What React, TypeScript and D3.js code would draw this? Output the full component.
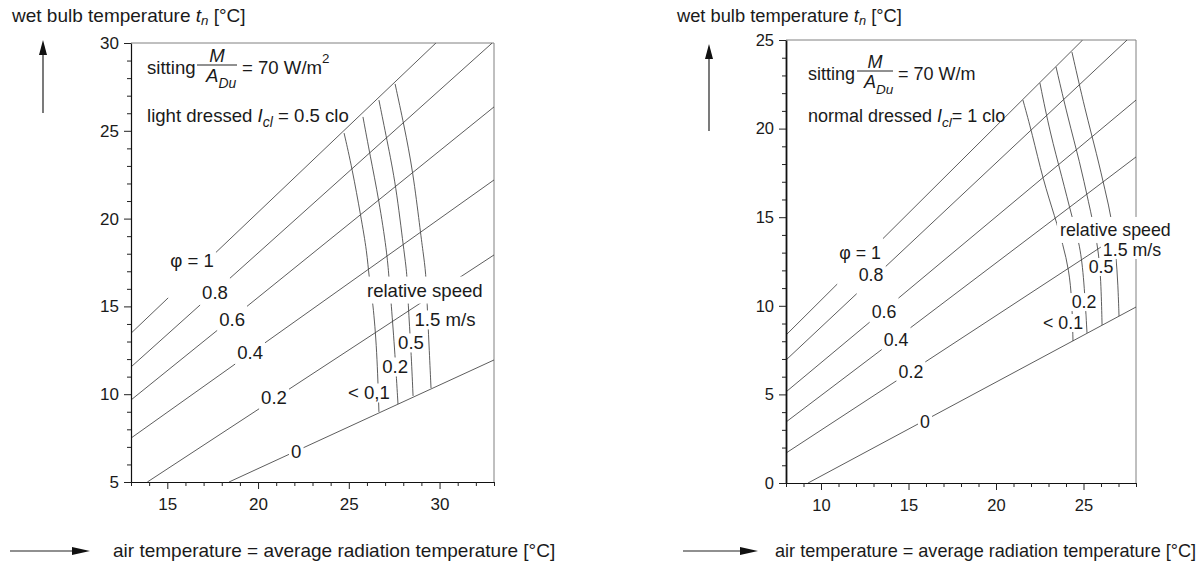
import React, { useEffect, useRef } from "react";
import * as d3 from "d3";

type Pt = [number, number];

// ---------- shared labels ----------
const PHI_TEXT = ["φ = 1", "0.8", "0.6", "0.4", "0.2", "0"];
const SPEED_TEXT_LEFT = ["< 0,1", "0.2", "0.5", "1.5 m/s"];
const SPEED_TEXT_RIGHT = ["< 0.1", "0.2", "0.5", "1.5 m/s"];
const REL_SPEED_TEXT = "relative speed";
const Y_TITLE = "wet bulb temperature ";
const X_TITLE = "air temperature = average radiation temperature [°C]";

// ---------- left panel (light dressed, 0.5 clo) ----------
const leftXDomain: Pt = [13, 33];
const leftYDomain: Pt = [5, 30];
const leftXTicks = [15, 20, 25, 30];
const leftYTicks = [5, 10, 15, 20, 25, 30];
const leftPhi: Pt[][] = [
  [[13, 13.47], [29.8, 30]],
  [[13, 11.55], [32.9, 30]],
  [[13, 9.67], [33, 26.36]],
  [[13, 7.5], [33, 22.2]],
  [[13.9, 5], [33, 17.93]],
  [[18.4, 5], [33, 11.95]],
];
const leftPhiLabel: Pt[] = [
  [16.36, 17.64], [17.63, 15.82], [18.57, 14.23], [19.56, 12.35], [20.88, 9.84], [22.1, 6.71],
];
const leftSpeed: Pt[][] = [
  [[24.74, 24.87], [25.18, 22.88], [25.67, 20.09], [26.0, 18.1], [26.11, 16.67], [26.33, 15.25], [26.55, 12.52], [26.66, 8.99]],
  [[25.78, 25.79], [26.17, 23.62], [26.66, 21.06], [27.1, 18.1], [27.21, 16.67], [27.33, 15.25], [27.55, 12.23], [27.71, 9.44]],
  [[26.66, 26.75], [27.1, 24.48], [27.6, 21.91], [28.04, 18.1], [28.21, 16.9], [28.26, 15.25], [28.43, 12.52], [28.54, 9.9]],
  [[27.55, 27.67], [28.04, 25.33], [28.54, 22.65], [28.92, 19.46], [29.09, 18.1], [29.25, 16.9], [29.31, 15.25], [29.42, 12.8], [29.53, 10.35]],
];
const leftSpeedLabel: Pt[] = [[26.11, 10.07], [27.55, 11.55], [28.43, 12.92], [30.3, 14.23]];
const leftRelSpeed: Pt = [26.0, 15.93];

// ---------- right panel (normal dressed, 1 clo) ----------
const rightXDomain: Pt = [8, 28];
const rightYDomain: Pt = [0, 25];
const rightXTicks = [10, 15, 20, 25];
const rightYTicks = [0, 5, 10, 15, 20, 25];
const rightPhi: Pt[][] = [
  [[8, 8.35], [24.95, 25]],
  [[8, 6.94], [27.49, 25]],
  [[8, 5.14], [28, 21.61]],
  [[8, 3.44], [28, 18.4]],
  [[8, 1.69], [28, 14.61]],
  [[9.26, 0], [28, 9.93]],
];
const rightPhiLabel: Pt[] = [
  [12.23, 12.98], [12.86, 11.74], [13.6, 9.65], [14.29, 8.07], [15.14, 6.26], [15.94, 3.44],
];
const rightSpeed: Pt[][] = [
  [[21.54, 21.61], [22.06, 19.75], [22.69, 17.1], [23.37, 15.01], [23.83, 13.43], [24.17, 12.02], [24.34, 10.33], [24.4, 8.01]],
  [[22.51, 22.57], [23.09, 19.75], [23.77, 17.27], [24.34, 15.01], [24.8, 13.43], [25.03, 11.46], [25.2, 8.47]],
  [[23.43, 23.48], [24.11, 20.6], [24.8, 18.06], [25.26, 15.97], [25.83, 13.43], [26.0, 11.46], [26.06, 8.92]],
  [[24.34, 24.32], [25.09, 21.05], [25.77, 18.51], [26.23, 16.53], [26.63, 14.84], [26.86, 12.87], [26.97, 11.17], [27.03, 9.42]],
];
const rightSpeedLabel: Pt[] = [[23.83, 9.03], [25.03, 10.21], [26.0, 12.19], [27.77, 13.15]];
const rightRelSpeed: Pt = [23.66, 14.28];

const FONT = "'Liberation Sans', Arial, Helvetica, sans-serif";
const INK = "#1a1a1a";
const LINE = "#404040";

type Panel = {
  xDomain: Pt; yDomain: Pt; xRange: Pt; yRange: Pt;
  xTicks: number[]; yTicks: number[];
  phi: Pt[][]; phiLabel: Pt[];
  speed: Pt[][]; speedLabel: Pt[]; speedText: string[];
  relSpeed: Pt; fs: number; tickFs: number; id: string;
  leftAxisWidth: number;
};

const LEFT: Panel = {
  xDomain: leftXDomain, yDomain: leftYDomain, xRange: [131, 494], yRange: [482, 43],
  xTicks: leftXTicks, yTicks: leftYTicks, phi: leftPhi, phiLabel: leftPhiLabel,
  speed: leftSpeed, speedLabel: leftSpeedLabel, speedText: SPEED_TEXT_LEFT,
  relSpeed: leftRelSpeed, fs: 18.6, tickFs: 17, id: "L", leftAxisWidth: 1.2,
};
const RIGHT: Panel = {
  xDomain: rightXDomain, yDomain: rightYDomain, xRange: [786, 1136], yRange: [483, 40],
  xTicks: rightXTicks, yTicks: rightYTicks, phi: rightPhi, phiLabel: rightPhiLabel,
  speed: rightSpeed, speedLabel: rightSpeedLabel, speedText: SPEED_TEXT_RIGHT,
  relSpeed: rightRelSpeed, fs: 17.8, tickFs: 16.5, id: "R", leftAxisWidth: 1.8,
};

function boxedLabel(g: any, x: number, y: number, s: string, fs: number, anchor = "middle", padX = 2, padY = 0) {
  const t = g.append("text")
    .attr("x", x).attr("y", y).attr("font-size", fs).attr("text-anchor", anchor)
    .attr("dominant-baseline", "central").attr("fill", INK).text(s);
  const bb = (t.node() as SVGTextElement).getBBox();
  g.insert("rect", () => t.node())
    .attr("x", bb.x - padX).attr("y", bb.y - padY)
    .attr("width", bb.width + 2 * padX).attr("height", bb.height + 2 * padY)
    .attr("fill", "#fff");
  return bb;
}

function drawPanel(svg: any, p: Panel) {
  const x = d3.scaleLinear().domain(p.xDomain).range(p.xRange);
  const y = d3.scaleLinear().domain(p.yDomain).range(p.yRange);
  const g = svg.append("g").attr("font-family", FONT);
  const [x0, x1] = p.xRange;
  const [yb, yt] = p.yRange;

  const clipId = "clip" + p.id;
  svg.append("defs").append("clipPath").attr("id", clipId)
    .append("rect").attr("x", x0).attr("y", yt).attr("width", x1 - x0).attr("height", yb - yt);

  // frame (top / right)
  g.append("path").attr("d", `M${x0},${yt}H${x1}V${yb}`).attr("fill", "none")
    .attr("stroke", "#808080").attr("stroke-width", 1);

  const plot = g.append("g").attr("clip-path", `url(#${clipId})`);
  const smooth = d3.line<Pt>().x((d) => x(d[0])).y((d) => y(d[1])).curve(d3.curveBasis);

  p.speed.forEach((pts) => {
    plot.append("path").attr("d", smooth(pts)).attr("fill", "none")
      .attr("stroke", LINE).attr("stroke-width", 0.85);
  });

  // axes
  const minorX = d3.range(Math.ceil(p.xDomain[0]), p.xDomain[1] + 1e-6, 1).filter((v) => !p.xTicks.includes(v));
  const minorY = d3.range(Math.ceil(p.yDomain[0]), p.yDomain[1] + 1e-6, 1).filter((v) => !p.yTicks.includes(v));

  const ax = g.append("g").attr("transform", `translate(0,${yb})`);
  ax.call(d3.axisBottom(x).tickValues(p.xTicks).tickSize(7).tickPadding(9).tickSizeOuter(0));
  ax.append("g").call(d3.axisBottom(x).tickValues(minorX).tickSize(4).tickFormat(() => "").tickSizeOuter(0))
    .select(".domain").remove();
  const ay = g.append("g").attr("transform", `translate(${x0},0)`);
  ay.call(d3.axisLeft(y).tickValues(p.yTicks).tickSize(7).tickPadding(5).tickSizeOuter(0));
  ay.append("g").call(d3.axisLeft(y).tickValues(minorY).tickSize(4).tickFormat(() => "").tickSizeOuter(0))
    .select(".domain").remove();
  ay.select(".domain").attr("stroke-width", p.leftAxisWidth);
  [ax, ay].forEach((a) => {
    a.selectAll("text").attr("font-family", FONT).attr("font-size", p.tickFs).attr("fill", INK);
    a.selectAll("line").attr("stroke", "#222");
    a.selectAll(".domain").attr("stroke", "#111");
  });

  // phi labels, with the line broken over the width of each label
  const lab = g.append("g");
  p.phi.forEach((pts, i) => {
    const d = p.phiLabel[i];
    const bb = boxedLabel(lab, x(d[0]), y(d[1]), PHI_TEXT[i], p.fs, "middle", 2, -1);
    const ax0 = x(pts[0][0]), ay0 = y(pts[0][1]);
    const ax1 = x(pts[1][0]), ay1 = y(pts[1][1]);
    const at = (px: number) => ay0 + ((px - ax0) / (ax1 - ax0)) * (ay1 - ay0);
    const gl = bb.x - 2, gr = bb.x + bb.width + 2;
    const segs: [number, number][] = [[ax0, gl], [gr, ax1]];
    segs.forEach(([a, b]) => {
      if (b > a) {
        plot.append("path").attr("d", `M${a},${at(a)}L${b},${at(b)}`)
          .attr("fill", "none").attr("stroke", LINE).attr("stroke-width", 0.85);
      }
    });
  });
  p.speedLabel.forEach((d, i) => {
    boxedLabel(lab, x(d[0]), y(d[1]), p.speedText[i], p.fs, "middle", 2, -1);
  });
  boxedLabel(lab, x(p.relSpeed[0]), y(p.relSpeed[1]), REL_SPEED_TEXT, p.fs, "start", 3, 3);
}

function drawTexts(svg: any) {
  const g = svg.append("g").attr("font-family", FONT).attr("fill", INK);

  const yTitle = (xPos: number, yPos: number, fs: number, gap: string) => {
    const t = g.append("text").attr("x", xPos).attr("y", yPos).attr("font-size", fs);
    t.append("tspan").text(Y_TITLE);
    t.append("tspan").attr("font-style", "italic").text("t");
    t.append("tspan").attr("font-style", "italic").attr("font-size", fs * 0.7).attr("dy", 3).text("n");
    t.append("tspan").attr("dy", -3).text(gap + "[°C]");
  };
  yTitle(12, 22, 19, " ");
  yTitle(677, 22, 18.3, "  ");

  const upArrow = (cx: number, top: number, bottom: number) => {
    g.append("line").attr("x1", cx).attr("x2", cx).attr("y1", bottom).attr("y2", top + 10)
      .attr("stroke", "#222").attr("stroke-width", 1.2);
    g.append("path").attr("d", `M${cx},${top}L${cx - 4},${top + 15}L${cx + 4},${top + 15}Z`).attr("fill", "#111");
  };
  upArrow(43, 40, 113);
  upArrow(709, 44, 131);

  const rightArrow = (xa: number, xb: number, yy: number) => {
    g.append("line").attr("x1", xa).attr("x2", xb - 10).attr("y1", yy).attr("y2", yy)
      .attr("stroke", "#222").attr("stroke-width", 1.2);
    g.append("path").attr("d", `M${xb},${yy}L${xb - 18},${yy - 4}L${xb - 18},${yy + 4}Z`).attr("fill", "#111");
  };
  rightArrow(10, 90, 551);
  rightArrow(683, 758, 551);

  g.append("text").attr("x", 113).attr("y", 557).attr("font-size", 19).text(X_TITLE);
  g.append("text").attr("x", 775).attr("y", 557).attr("font-size", 18.1).text(X_TITLE);

  // header formulas
  const header = (x0: number, base: number, fs: number, barX: number, barW: number, tail: string, sup: boolean,
    line2: string, line2Base: number, l2tail: string) => {
    g.append("text").attr("x", x0).attr("y", base).attr("font-size", fs).text("sitting");
    const cx = barX + barW / 2;
    g.append("line").attr("x1", barX).attr("x2", barX + barW).attr("y1", base - 9).attr("y2", base - 9)
      .attr("stroke", "#222").attr("stroke-width", 1);
    g.append("text").attr("x", cx).attr("y", base - 12).attr("font-size", fs).attr("font-style", "italic")
      .attr("text-anchor", "middle").text("M");
    const a = g.append("text").attr("x", cx - 11).attr("y", base + 8).attr("font-size", fs).attr("font-style", "italic");
    a.append("tspan").text("A");
    a.append("tspan").attr("font-size", fs * 0.75).attr("dy", 6).text("Du");
    const t = g.append("text").attr("x", barX + barW + 5).attr("y", base).attr("font-size", fs).text(tail);
    if (sup) t.append("tspan").attr("font-size", fs * 0.72).attr("dy", -11).text("2");
    const l2 = g.append("text").attr("x", x0).attr("y", line2Base).attr("font-size", fs);
    l2.append("tspan").text(line2);
    l2.append("tspan").attr("font-style", "italic").text("I");
    l2.append("tspan").attr("font-style", "italic").attr("font-size", fs * 0.75).attr("dy", 5).text("cl");
    l2.append("tspan").attr("dy", -5).text(l2tail);
  };
  header(147, 74, 18.6, 197, 40, "= 70 W/m", true, "light dressed ", 122, " = 0.5 clo");
  header(808, 80, 18, 857, 36, "= 70 W/m", false, "normal dressed ", 122, "= 1 clo");
}

export default function App() {
  const ref = useRef<SVGSVGElement>(null);
  useEffect(() => {
    const svg = d3.select(ref.current);
    svg.selectAll("*").remove();
    svg.append("rect").attr("width", 1201).attr("height", 565).attr("fill", "#fff");
    drawPanel(svg, LEFT);
    drawPanel(svg, RIGHT);
    drawTexts(svg);
  }, []);
  return (
    <svg
      ref={ref}
      width={1201}
      height={565}
      style={{ position: "absolute", left: 0, top: 0, display: "block" }}
    />
  );
}
